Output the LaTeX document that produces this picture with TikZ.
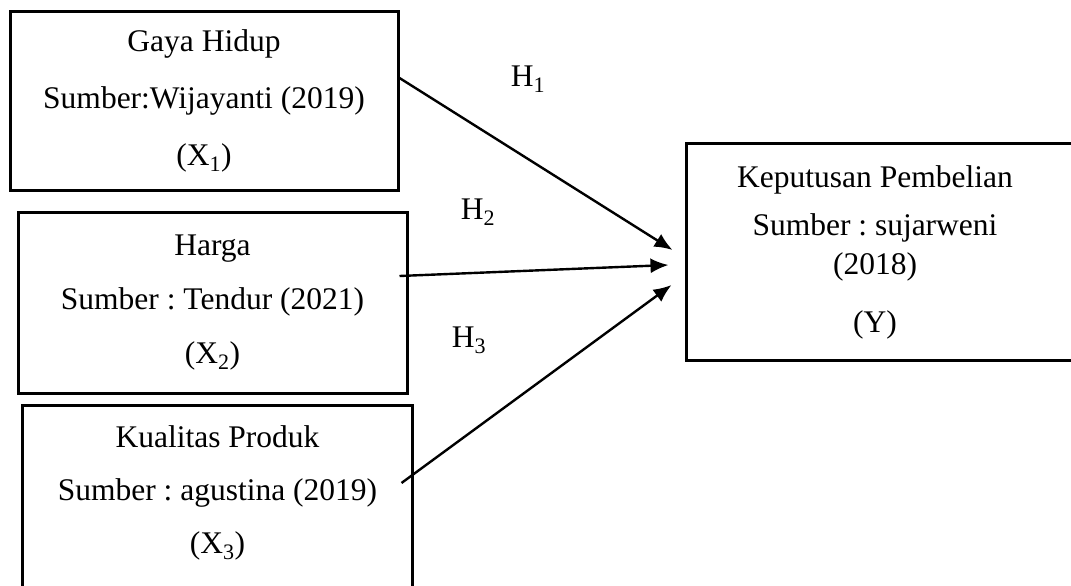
\documentclass[tikz,border=0pt]{standalone}
\usepackage{fontspec}
\setmainfont{Liberation Serif}
\usetikzlibrary{arrows.meta}
\frenchspacing

\begin{document}
\begin{tikzpicture}[x=1pt,y=1pt,
    varbox/.style={line width=3pt, align=center, inner sep=0pt},
    hyparrow/.style={line width=2.4pt, -{Latex[length=18pt,width=15pt]}},
    font=\fontsize{31.5}{55}\selectfont]
    \useasboundingbox (0,0) rectangle (1071,-586);
    \node[varbox, draw, minimum width=388pt, minimum height=178pt] (x1) at (204,-101)
      {Gaya Hidup\\[2pt] Sumber:Wijayanti (2019)\\[2pt] (X\textsubscript{1})};
    \node[varbox, draw, minimum width=389pt, minimum height=181pt] (x2) at (212.5,-302.5)
      {Harga\\[-1pt] Sumber : Tendur (2021)\\[-1pt] (X\textsubscript{2})};
    \node[varbox, minimum width=387pt, minimum height=171pt] (x3) at (217.5,-492.5)
      {Kualitas Produk\\[-2pt] Sumber : agustina (2019)\\[-2pt] (X\textsubscript{3})};
    \draw[line width=3pt] ([yshift=-30pt]x3.south west) -- (x3.north west) -- (x3.north east) -- ([yshift=-30pt]x3.south east);
    \node[varbox, minimum width=374pt, minimum height=214pt] (y) at (875,-252)
      {Keputusan Pembelian\\[-7pt] Sumber : sujarweni\\[-16pt] (2018)\\[3pt] (Y)};
    \draw[line width=3pt] ([xshift=40pt]y.north east) -- (y.north west) -- (y.south west) -- ([xshift=40pt]y.south east);
    \draw[hyparrow] ([yshift=23pt]x1.east) -- ([xshift=-14pt,yshift=2pt]y.west);
    \draw[hyparrow] ([xshift=-9pt,yshift=26.5pt]x2.east) -- ([xshift=-18pt,yshift=-13pt]y.west);
    \draw[hyparrow] ([xshift=-11pt,yshift=9.5pt]x3.east) -- ([xshift=-15pt,yshift=-33pt]y.west);
    \node[anchor=base] (h1) at (528,-87) {H\textsubscript{1}};
    \node[anchor=base] (h2) at (478,-219) {H\textsubscript{2}};
    \node[anchor=base] (h3) at (469,-347) {H\textsubscript{3}};
  \end{tikzpicture}
\end{document}
